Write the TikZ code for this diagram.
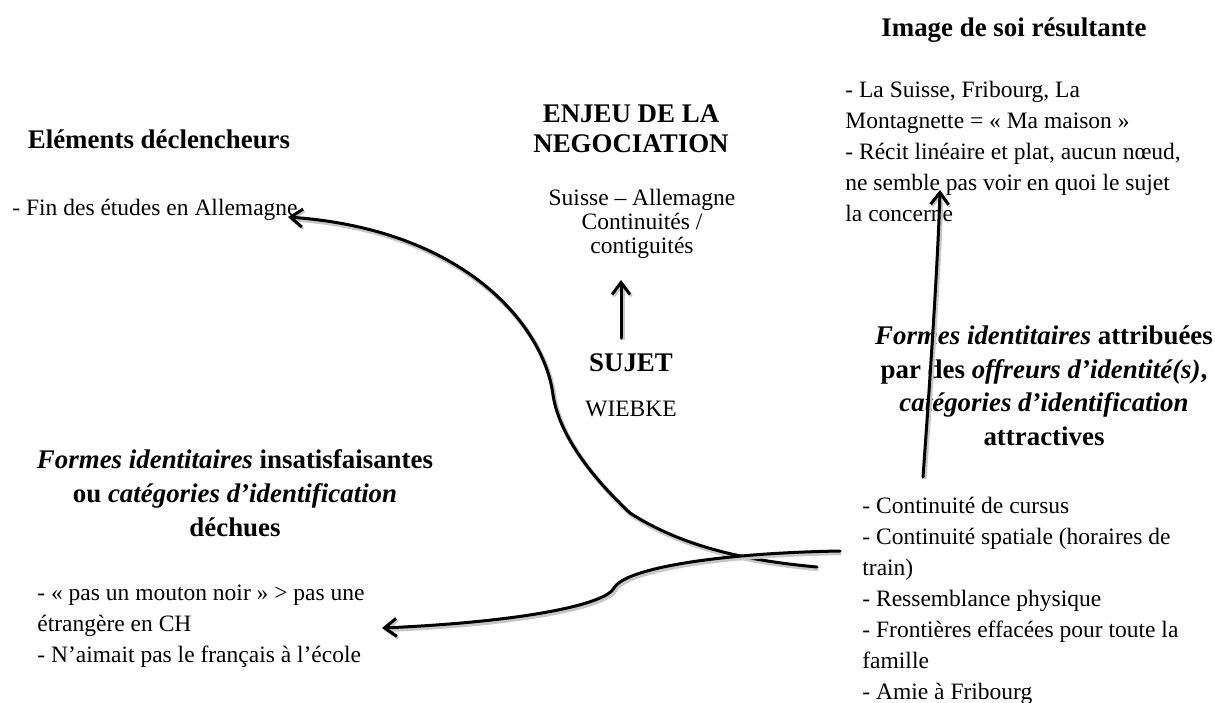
\documentclass[tikz,border=0pt]{standalone}
\usepackage{fontspec}
\setmainfont{Liberation Serif}
\usetikzlibrary{arrows.meta}
\tikzset{
  body/.style={inner sep=0pt, font=\fontsize{11.75pt}{15.5pt}\selectfont},
  bodyc/.style={inner sep=0pt, align=center, font=\fontsize{11.75pt}{11.9pt}\selectfont},
  bodyl/.style={body, align=left},
  head/.style={inner sep=0pt, align=center, font=\fontsize{13.45pt}{16.75pt}\selectfont\bfseries},
  conn/.style={line width=1.5pt, line cap=round,
    -{Straight Barb[length=6pt,width=9pt,line width=1.5pt]},
    preaction={draw=black!22, line width=2.2pt, transform canvas={shift={(0.7pt,-1pt)}}}},
}
\begin{document}
\begin{tikzpicture}[x=0.5pt,y=-0.5pt]
\useasboundingbox (0,0) rectangle (1215,702);
% headings (anchor base = baseline of the last line)
\node[head, anchor=base] (hdecl) at (159,148) {Eléments déclencheurs};
\node[head, anchor=base, font=\fontsize{13.45pt}{15pt}\selectfont\bfseries] (henjeu) at (631,152) {ENJEU DE LA\\NEGOCIATION};
\node[head, anchor=base] (himage) at (1014,36) {Image de soi résultante};
\node[head, anchor=base] (hattr) at (1044,445) {\textit{Formes identitaires} attribuées\\par des \textit{offreurs d’identité(s)},\\\textit{catégories d’identification}\\attractives};
\node[head, anchor=base, font=\fontsize{13.45pt}{17pt}\selectfont\bfseries] (hdech) at (235,536) {\textit{Formes identitaires} insatisfaisantes\\ou \textit{catégories d’identification}\\déchues};
\node[head, anchor=base] (sujet) at (631,371) {SUJET};
% bodies
\node[body, anchor=base west] (decl) at (12,215) {- Fin des études en Allemagne};
\node[bodyc, anchor=base] (enjeu) at (642,253) {Suisse – Allemagne\\Continuités /\\contiguités};
\node[body, anchor=base] (wiebke) at (631,416) {WIEBKE};
\node[bodyl, anchor=base west] (image) at (845,221) {- La Suisse, Fribourg, La\\Montagnette = « Ma maison »\\- Récit linéaire et plat, aucun nœud,\\ne semble pas voir en quoi le sujet\\la concerne};
\node[bodyl, anchor=base west] (attr) at (862,699) {- Continuité de cursus\\- Continuité spatiale (horaires de\\train)\\- Ressemblance physique\\- Frontières effacées pour toute la\\famille\\- Amie à Fribourg};
\node[bodyl, anchor=base west] (dech) at (37,662) {- « pas un mouton noir » > pas une\\étrangère en CH\\- N’aimait pas le français à l’école};
% connector ends
\coordinate (a1s) at (817,567);
\coordinate (a1m) at (630,513);
\coordinate (a1k) at (553,395);
\coordinate (a1e) at (288,217);
\coordinate (a2s) at (840,551);
\coordinate (a2k) at (614,588);
\coordinate (a2e) at (382,628);
\coordinate (a3s) at (923,477);
\coordinate (a3e) at (940,190);
\coordinate (a4s) at (621,338);
\coordinate (a4e) at (621,280);
% connectors
\draw[conn] (a1s) .. controls (740,560) and (680,545) .. (a1m)
  .. controls (600,485) and (560,440) .. (a1k)
  .. controls (545,330) and (470,230) .. (a1e);
\draw[conn] (a2s) .. controls (720,553) and (625,568) .. (a2k)
  .. controls (605,605) and (520,622) .. (a2e);
\draw[conn] (a3s) .. controls (930,380) and (938,260) .. (a3e);
\draw[conn] (a4s) -- (a4e);
\end{tikzpicture}
\end{document}
